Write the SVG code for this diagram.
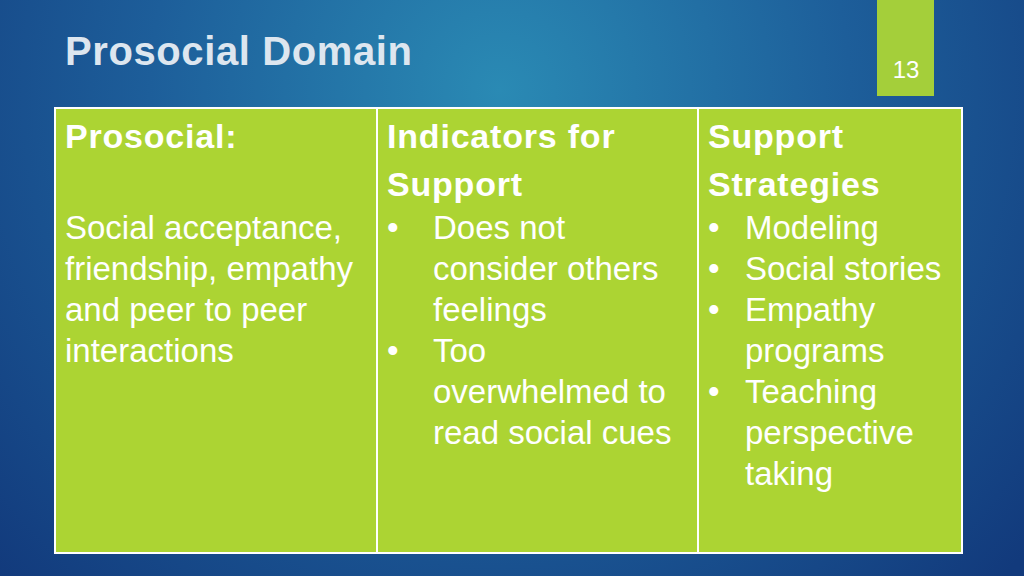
<svg xmlns="http://www.w3.org/2000/svg" width="1024" height="576" viewBox="0 0 1024 576">
<defs>
<radialGradient id="bg" cx="500" cy="90" r="700" gradientUnits="userSpaceOnUse">
<stop offset="0" stop-color="#2a8ab4"/>
<stop offset="0.5" stop-color="#1d5e9a"/>
<stop offset="1" stop-color="#123a7c"/>
</radialGradient>
<style>
.t{font-family:"Liberation Sans",Arial,sans-serif;font-size:33px;fill:#ffffff}
.b{font-weight:bold;font-size:34px;letter-spacing:0.8px}
</style>
</defs>
<rect width="1024" height="576" fill="url(#bg)"/>
<text x="65" y="65" font-family="Liberation Sans,Arial,sans-serif" font-size="40" font-weight="bold" letter-spacing="0.6" fill="#dde6ef">Prosocial Domain</text>
<g id="page"><rect x="877" y="0" width="57" height="96" fill="#a4cf3a"/>
<text x="906" y="78" text-anchor="middle" font-family="Liberation Sans,Arial,sans-serif" font-size="24" fill="#ffffff">13</text></g>
<g id="table">
<rect x="55" y="108" width="907" height="445" fill="#acd433" stroke="#ffffff" stroke-width="2"/>
<line x1="377" y1="108" x2="377" y2="553" stroke="#ffffff" stroke-width="2"/>
<line x1="698" y1="108" x2="698" y2="553" stroke="#ffffff" stroke-width="2"/>
</g>
<g id="col1">
<text x="65" y="148" class="t b">Prosocial:</text>
<text x="65" y="239" class="t">Social acceptance,</text>
<text x="65" y="280" class="t">friendship, empathy</text>
<text x="65" y="321" class="t">and peer to peer</text>
<text x="65" y="362" class="t">interactions</text>
</g>
<g id="col2">
<text x="387" y="148" class="t b">Indicators for</text>
<text x="387" y="196" class="t b">Support</text>
<text x="387" y="239" class="t">•</text><text x="433" y="239" class="t">Does not</text>
<text x="433" y="280" class="t">consider others</text>
<text x="433" y="321" class="t">feelings</text>
<text x="387" y="362" class="t">•</text><text x="433" y="362" class="t">Too</text>
<text x="433" y="403" class="t">overwhelmed to</text>
<text x="433" y="444" class="t">read social cues</text>
</g>
<g id="col3">
<text x="708" y="148" class="t b">Support</text>
<text x="708" y="196" class="t b">Strategies</text>
<text x="708" y="239" class="t">•</text><text x="745" y="239" class="t">Modeling</text>
<text x="708" y="280" class="t">•</text><text x="745" y="280" class="t">Social stories</text>
<text x="708" y="321" class="t">•</text><text x="745" y="321" class="t">Empathy</text>
<text x="745" y="362" class="t">programs</text>
<text x="708" y="403" class="t">•</text><text x="745" y="403" class="t">Teaching</text>
<text x="745" y="444" class="t">perspective</text>
<text x="745" y="485" class="t">taking</text>
</g>
</svg>
